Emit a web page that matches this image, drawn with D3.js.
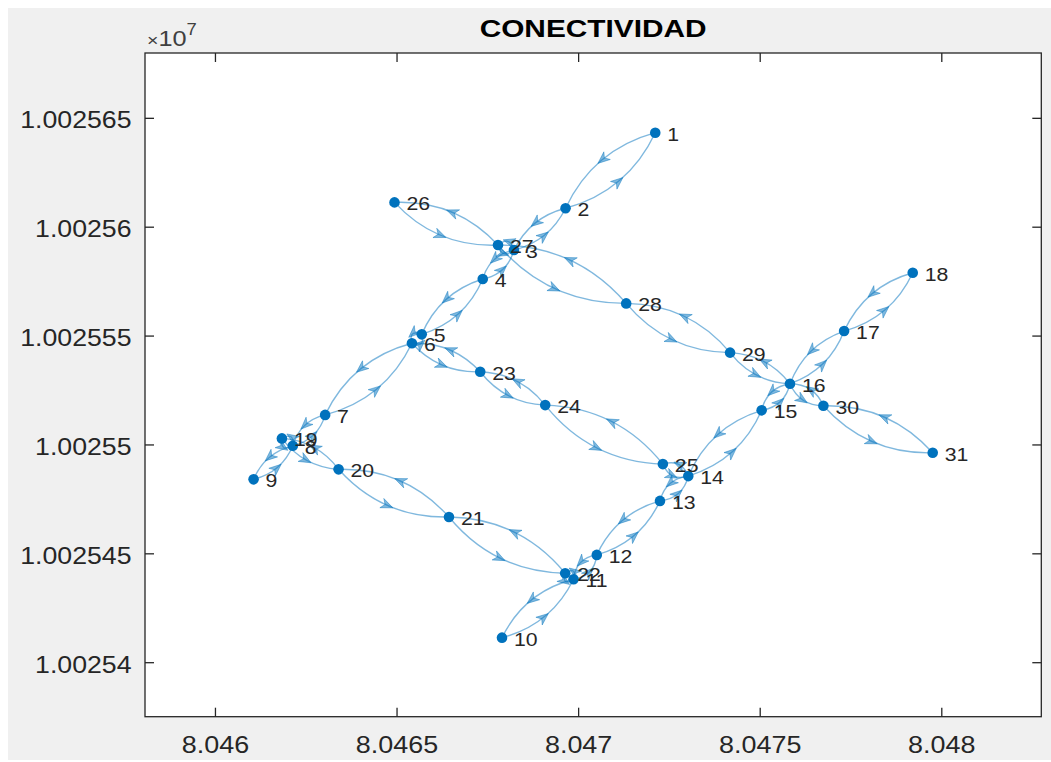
<!DOCTYPE html>
<html><head><meta charset="utf-8">
<script src="https://cdn.jsdelivr.net/npm/d3@7"></script>
<style>html,body{margin:0;padding:0;background:#fff;} svg{display:block}</style>
</head><body>
<svg id="chart" width="1051" height="762"></svg>
<script>
// ---- data (UTM easting / northing, metres) ----
const nodeLabels = ["1","2","3","4","5","6","7","8","9","10","11","12","13","14","15","16","17","18","19","20","21","22","23","24","25","26","27","28","29","30","31"];
const nodeX = [804721.1,804696.4,804682.2,804673.6,804656.8,804654.1,804630.2,804621.3,804610.5,804678.9,
               804698.6,804705.0,804722.4,804730.2,804750.4,804758.2,804773.1,804792.0,804618.3,804633.9,
               804664.3,804696.3,804672.9,804690.8,804723.2,804649.3,804677.8,804713.1,804741.7,804767.4,804797.5];
const nodeY = [10025643.4,10025608.7,10025589.5,10025576.2,10025550.8,10025546.7,10025513.8,10025499.6,10025484.2,10025411.5,
               10025438.3,10025449.5,10025474.3,10025485.7,10025515.9,10025528.1,10025552.3,10025579.1,10025503.0,10025488.8,
               10025466.9,10025441.1,10025533.6,10025518.3,10025491.2,10025611.4,10025591.8,10025565.0,10025542.4,10025518.0,10025496.4];
// directed edges (each link present in both directions)
const edgeSource = [1,2, 2,3, 3,4, 4,5, 5,6, 6,7, 7,8, 8,9,
                    10,11, 11,12, 12,13, 13,14, 14,15, 15,16, 16,17, 17,18,
                    19,20, 20,21, 21,22, 23,24, 24,25,
                    26,27, 27,28, 28,29, 29,16, 30,31,
                    3,27, 8,19, 11,22, 6,23, 14,25, 16,30];
const edgeTarget = [2,1, 3,2, 4,3, 5,4, 6,5, 7,6, 8,7, 9,8,
                    11,10, 12,11, 13,12, 14,13, 15,14, 16,15, 17,16, 18,17,
                    20,19, 21,20, 22,21, 24,23, 25,24,
                    27,26, 28,27, 29,28, 16,29, 31,30,
                    27,3, 19,8, 22,11, 23,6, 25,14, 30,16];
const xDomain = [804580.6, 804827.4];
const yDomain = [10025375.2, 10025680.0];
const xTicks = [804600, 804650, 804700, 804750, 804800];
const xTickLabels = ["8.046", "8.0465", "8.047", "8.0475", "8.048"];
const yTicks = [10025400, 10025450, 10025500, 10025550, 10025600, 10025650];
const yTickLabels = ["1.00254", "1.002545", "1.00255", "1.002555", "1.00256", "1.002565"];
const titleText = "CONECTIVIDAD";

// ---- layout ----
const svg = d3.select("#chart");
const W = 1051, H = 762;
const L = 145, R = 1041.3, T = 53, B = 716.7;
const FONT = "'Liberation Sans', Arial, Helvetica, sans-serif";
const axisColor = "#262626";
const nodeColor = "#0072BD";

function stretch(sel, factor) {
  sel.each(function () {
    const l = this.getComputedTextLength();
    this.setAttribute("textLength", l * factor);
    this.setAttribute("lengthAdjust", "spacingAndGlyphs");
  });
}

svg.append("rect").attr("x", 0).attr("y", 0).attr("width", W).attr("height", H).attr("fill", "#ffffff");
svg.append("rect").attr("x", 8).attr("y", 8).attr("width", W - 8).attr("height", H - 10).attr("fill", "#f0f0f0");
svg.append("rect").attr("x", L).attr("y", T).attr("width", R - L).attr("height", B - T).attr("fill", "#ffffff");

const x = d3.scaleLinear().domain(xDomain).range([L, R]);
const y = d3.scaleLinear().domain(yDomain).range([B, T]);

// ---- edges ----
const edgeG = svg.append("g");
const edges = edgeSource.map((s, i) => ({ s: s - 1, t: edgeTarget[i] - 1 }));
edges.forEach(e => {
  const x0 = x(nodeX[e.s]), y0 = y(nodeY[e.s]);
  const x1 = x(nodeX[e.t]), y1 = y(nodeY[e.t]);
  const dx = x1 - x0, dy = y1 - y0;
  const len = Math.hypot(dx, dy);
  const off = Math.max(0.23 * len, 13);
  const nx = -dy / len, ny = dx / len;
  const cx = (x0 + x1) / 2 + nx * off, cy = (y0 + y1) / 2 + ny * off;
  edgeG.append("path")
    .attr("d", `M${x0},${y0}Q${cx},${cy} ${x1},${y1}`)
    .attr("fill", "none")
    .attr("stroke", nodeColor)
    .attr("stroke-opacity", 0.5)
    .attr("stroke-width", 1.4);
  // arrow at t = 0.5
  const mx = 0.25 * x0 + 0.5 * cx + 0.25 * x1;
  const my = 0.25 * y0 + 0.5 * cy + 0.25 * y1;
  const ang = Math.atan2(dy, dx) * 180 / Math.PI;
  edgeG.append("path")
    .attr("d", "M5,0L-7,-5L-3.5,0L-7,5Z")
    .attr("transform", `translate(${mx},${my}) rotate(${ang})`)
    .attr("fill", nodeColor)
    .attr("fill-opacity", 0.5)
    .attr("stroke", nodeColor)
    .attr("stroke-opacity", 0.5)
    .attr("stroke-width", 0.8);
});

// ---- nodes ----
svg.append("g").selectAll("circle").data(nodeLabels).join("circle")
  .attr("cx", (d, i) => x(nodeX[i]))
  .attr("cy", (d, i) => y(nodeY[i]))
  .attr("r", 5.3)
  .attr("fill", nodeColor);

const lab = svg.append("g").selectAll("text").data(nodeLabels).join("text")
  .attr("x", (d, i) => x(nodeX[i]) + 12)
  .attr("y", (d, i) => y(nodeY[i]) + 2)
  .attr("dominant-baseline", "central")
  .attr("font-family", FONT)
  .attr("font-size", 18)
  .attr("fill", "#262626")
  .text(d => d);
stretch(lab, 1.18);

// ---- axes box & ticks ----
const axG = svg.append("g");
axG.append("rect").attr("x", L).attr("y", T).attr("width", R - L).attr("height", B - T)
  .attr("fill", "none").attr("stroke", axisColor).attr("stroke-width", 1.3);
const tl = 9;
xTicks.forEach(v => {
  const px = x(v);
  axG.append("line").attr("x1", px).attr("x2", px).attr("y1", B).attr("y2", B - tl).attr("stroke", axisColor).attr("stroke-width", 1.3);
  axG.append("line").attr("x1", px).attr("x2", px).attr("y1", T).attr("y2", T + tl).attr("stroke", axisColor).attr("stroke-width", 1.3);
});
yTicks.forEach(v => {
  const py = y(v);
  axG.append("line").attr("x1", L).attr("x2", L + tl).attr("y1", py).attr("y2", py).attr("stroke", axisColor).attr("stroke-width", 1.3);
  axG.append("line").attr("x1", R).attr("x2", R - tl).attr("y1", py).attr("y2", py).attr("stroke", axisColor).attr("stroke-width", 1.3);
});
const xl = axG.selectAll("text.xt").data(xTicks).join("text").attr("class", "xt")
  .attr("x", d => x(d)).attr("y", 753)
  .attr("text-anchor", "middle")
  .attr("font-family", FONT).attr("font-size", 23).attr("fill", axisColor)
  .text((d, i) => xTickLabels[i]);
stretch(xl, 1.17);
const yl = axG.selectAll("text.yt").data(yTicks).join("text").attr("class", "yt")
  .attr("x", 131.5).attr("y", d => y(d) + 2)
  .attr("dominant-baseline", "central")
  .attr("text-anchor", "end")
  .attr("font-family", FONT).attr("font-size", 23).attr("fill", axisColor)
  .text((d, i) => yTickLabels[i]);
stretch(yl, 1.16);

// exponent label
const ex = svg.append("text").attr("x", 147).attr("y", 46)
  .attr("font-family", FONT).attr("fill", "#404040");
ex.append("tspan").attr("font-size", 17).text("×");
ex.append("tspan").attr("font-size", 22).text("10");
ex.append("tspan").attr("dy", -11).attr("font-size", 16).text("7");
stretch(ex, 1.15);

// title
const tt = svg.append("text").attr("x", (L + R) / 2).attr("y", 37)
  .attr("text-anchor", "middle")
  .attr("font-family", FONT).attr("font-size", 23).attr("font-weight", "bold").attr("fill", "#000")
  .text(titleText);
tt.each(function () {
  this.setAttribute("textLength", 227);
  this.setAttribute("lengthAdjust", "spacingAndGlyphs");
});
</script>
</body></html>
